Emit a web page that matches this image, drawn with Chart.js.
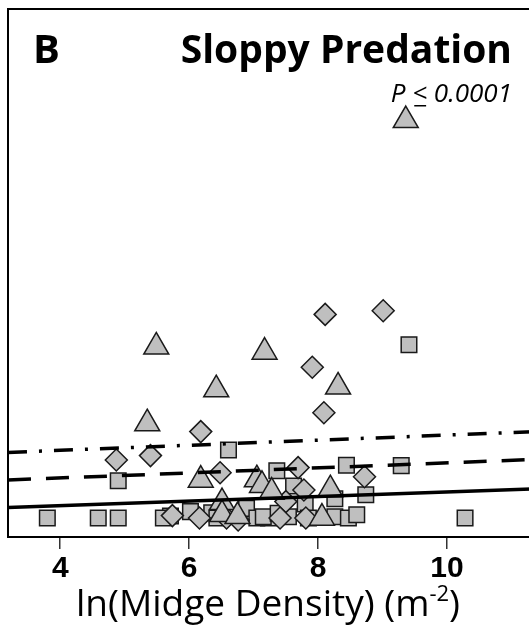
<!DOCTYPE html>
<html>
<head>
<meta charset="utf-8">
<script src="https://cdn.jsdelivr.net/npm/chart.js@4"></script>
<style>
  html, body { margin: 0; padding: 0; background: #fff; }
  #wrap { width: 529px; height: 629px; overflow: hidden; }
</style>
</head>
<body>
<div id="wrap"><canvas id="chart" width="560" height="629"></canvas></div>
<script>
// values (y in arbitrary units, 0 = bottom row of points)
const squaresX = [9.41, 6.61, 4.90, 7.36, 8.44, 9.29, 8.74, 3.80, 4.59, 4.90, 10.28, 7.62, 8.26, 7.80, 5.71, 6.02, 6.35, 6.89, 7.05, 7.23, 7.15, 7.54, 7.38, 7.85, 8.26, 8.47, 8.60, 5.60, 6.43];
const squaresY = [4.33, 1.70, 0.93, 1.18, 1.32, 1.31, 0.58, 0, 0, 0, 0, 0.80, 0.48, 0.35, 0.05, 0.16, 0.13, 0.24, 0, 0, 0.03, 0.03, 0.12, 0, 0.03, 0, 0.08, 0, 0];
const diamondsX = [8.11, 9.01, 7.91, 8.09, 6.18, 4.87, 5.40, 6.48, 7.69, 7.78, 8.72, 7.50, 5.74, 6.16, 6.58, 6.76, 7.41, 7.81];
const diamondsY = [5.09, 5.18, 3.77, 2.63, 2.16, 1.45, 1.56, 1.13, 1.26, 0.70, 1.03, 0.41, 0.06, 0, 0, -0.05, 0, 0];
const trianglesX = [9.36, 5.49, 7.17, 6.42, 8.31, 5.35, 6.18, 7.05, 8.19, 7.13, 7.28, 6.51, 6.51, 6.75, 8.06];
const trianglesY = [9.94, 4.28, 4.15, 3.21, 3.28, 2.36, 0.95, 0.96, 0.71, 0.82, 0.65, 0.39, 0.09, 0.04, 0];

// fitted lines, given by their two end points
const lineX = [3.19, 11.52];
const dashDotY = [1.64, 2.17];
const dashedY = [0.95, 1.475];
const solidY = [0.26, 0.735];

const xTicks = [4, 6, 8, 10];
const panelLabel = 'B';
const chartTitle = 'Sloppy Predation';
const xTitle = 'ln(Midge Density) (m';
const xTitleSup = '-2';

function toPoints(xs, ys) {
    return xs.map((x, i) => ({ x: x, y: ys[i] }));
}

function markerSet(label, xs, ys, style, order) {
    return {
        label: label,
        data: toPoints(xs, ys),
        pointStyle: style,
        pointRadius: style === 'triangle' ? 14.4 : 11,
        pointBackgroundColor: '#bfbfbf',
        pointBorderColor: '#1a1a1a',
        pointBorderWidth: 1.5,
        showLine: false,
        order: order
    };
}

function lineSet(label, ys, dash) {
    return {
        label: label,
        data: toPoints(lineX, ys),
        showLine: true,
        borderColor: '#000',
        borderWidth: 3.5,
        borderDash: dash,
        borderCapStyle: 'butt',
        pointRadius: 0,
        fill: false,
        order: 0
    };
}

const framePlugin = {
    id: 'frameAndText',
    afterDraw(chart) {
        const ctx = chart.ctx;
        const a = chart.chartArea;
        ctx.save();
        ctx.strokeStyle = '#000';
        ctx.lineWidth = 2;
        ctx.strokeRect(a.left, a.top, a.right - a.left, a.bottom - a.top);

        ctx.fillStyle = '#000';
        ctx.textBaseline = 'alphabetic';
        ctx.font = 'bold 40px "Open Sans"';
        ctx.textAlign = 'left';
        ctx.fillText(panelLabel, 33, 63);
        ctx.font = 'bold 39px "Open Sans"';
        ctx.textAlign = 'right';
        ctx.fillText(chartTitle, 512, 63);

        // P value, "<" underlined as in the original
        ctx.font = 'italic 26px "Open Sans"';
        ctx.textAlign = 'left';
        const parts = ['P ', '<', ' 0.0001'];
        const widths = parts.map(p => ctx.measureText(p).width);
        let px = 512 - widths.reduce((s, w) => s + w, 0);
        parts.forEach((p, i) => {
            ctx.fillText(p, px, 102);
            if (p === '<') {
                ctx.fillRect(px + 2, 105, widths[i] - 3, 1.5);
            }
            px += widths[i];
        });

        // x axis title with superscript
        ctx.font = '37px "Open Sans"';
        const w1 = ctx.measureText(xTitle).width;
        ctx.font = '22px "Open Sans"';
        const w2 = ctx.measureText(xTitleSup).width;
        ctx.font = '37px "Open Sans"';
        const w3 = ctx.measureText(')').width;
        let tx = 268 - (w1 + w2 + w3) / 2;
        ctx.fillText(xTitle, tx, 616);
        tx += w1;
        ctx.font = '22px "Open Sans"';
        ctx.fillText(xTitleSup, tx, 601);
        tx += w2;
        ctx.font = '37px "Open Sans"';
        ctx.fillText(')', tx, 616);
        ctx.restore();
    }
};

new Chart(document.getElementById('chart'), {
    type: 'scatter',
    data: {
        datasets: [
            lineSet('solid', solidY, []),
            lineSet('dashed', dashedY, [23, 15]),
            lineSet('dash-dot', dashDotY, [19, 12, 3, 12]),
            markerSet('triangles', trianglesX, trianglesY, 'triangle', 1),
            markerSet('diamonds', diamondsX, diamondsY, 'rectRot', 2),
            markerSet('squares', squaresX, squaresY, 'rect', 3)
        ]
    },
    options: {
        responsive: false,
        animation: false,
        devicePixelRatio: 1,
        layout: { autoPadding: false, padding: { left: 8, top: 9, right: 15, bottom: 0 } },
        plugins: {
            legend: { display: false },
            tooltip: { enabled: false }
        },
        scales: {
            x: {
                type: 'linear',
                min: 3.19,
                max: 11.52,
                afterBuildTicks: (scale) => { scale.ticks = xTicks.map(v => ({ value: v })); },
                afterFit: (scale) => {
                    scale.height = 92;
                    scale.paddingLeft = 0;
                    scale.paddingRight = 0;
                },
                grid: { drawOnChartArea: false, drawTicks: true, tickLength: 12, color: '#333', lineWidth: 1.5 },
                border: { display: false },
                ticks: {
                    padding: 2,
                    color: '#000',
                    font: { family: '"Liberation Sans", Arial', size: 30, weight: 'bold' }
                }
            },
            y: {
                type: 'linear',
                display: false,
                min: -0.475,
                max: 12.725
            }
        }
    },
    plugins: [framePlugin]
});
</script>
</body>
</html>
